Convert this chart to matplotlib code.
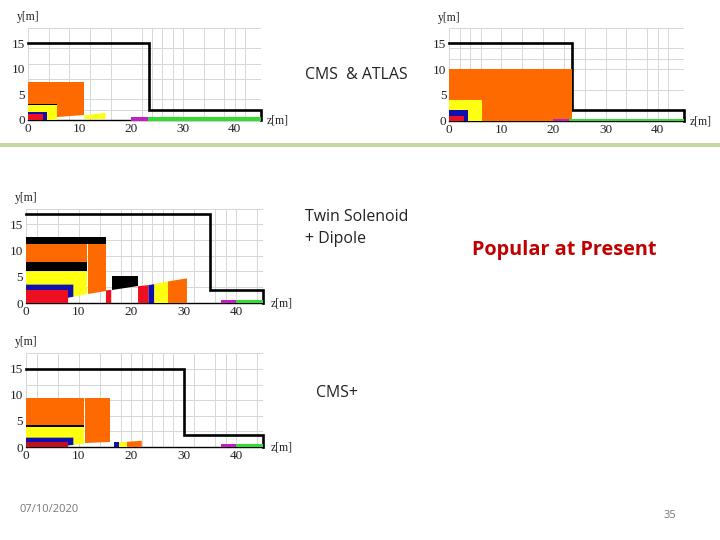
import matplotlib
matplotlib.use('Agg')
import matplotlib.pyplot as plt

W, H = 720, 540
ORANGE = '#ff6a00'
YELLOW = '#ffff10'
BLUE = '#1010b0'
RED = '#ee1020'
DARKRED = '#c01020'
BLACK = '#000000'
WHITE = '#ffffff'
MAGENTA = '#c020c0'
GREEN = '#30dd30'

z_ticks = [0, 10, 20, 30, 40]
y_ticks = [0, 5, 10, 15]

# grid lines in metres, they differ a bit from panel to panel
grid_z_1 = [0, 4, 8, 12, 16, 22, 24, 26, 28, 30, 34, 38, 40, 42, 45]
grid_y_1 = [2, 4, 8, 11, 14, 18]
grid_z_2 = [0, 2, 4, 6, 10, 14, 18, 22, 26, 30, 34, 38, 40, 42, 45]
grid_y_2 = [2, 6, 10, 12, 14, 18]
grid_z_3 = [0, 2, 6, 10, 14, 18, 20, 22, 24, 26, 28, 32, 36, 38, 40, 44, 45]
grid_y_3 = [3, 6, 9, 12, 15, 17.9]
grid_z_4 = [0, 2, 6, 10, 14, 18, 20, 22, 24, 26, 28, 32, 36, 38, 40, 44, 45]
grid_y_4 = [3, 6, 9, 12, 15, 18]

# outlines of the cavern (z, y), open at the beam line
outline_1 = [(0, 15), (23.5, 15), (23.5, 2), (45, 2), (45, 0)]
outline_2 = [(0, 15), (23.5, 15), (23.5, 2), (45, 2), (45, 0)]
outline_3 = [(0, 17), (35, 17), (35, 2.4), (45, 2.4), (45, 0)]
outline_4 = [(0, 15), (30, 15), (30, 2.4), (45, 2.4), (45, 0)]

# detector pieces, painted in order: colour, polygon (z, y)
shapes_1 = [
    (ORANGE, [(0, 0), (0, 7.4), (5.6, 7.4), (5.6, 0)]),
    (ORANGE, [(5.7, 0.5), (5.7, 7.4), (10.8, 7.4), (10.8, 0.9)]),
    (YELLOW, [(0, 0), (0, 3), (5.6, 3), (5.6, 0)]),
    (BLACK, [(0, 2.9), (0, 3.1), (5.6, 3.1), (5.6, 2.9)]),
    (BLUE, [(0, 0), (0, 1.6), (3.7, 1.6), (3.7, 0)]),
    (RED, [(0, 0), (0, 1.2), (2.9, 1.2), (2.9, 0)]),
    (YELLOW, [(10.9, 0.2), (10.9, 0.9), (15, 1.4), (15, 0.2)]),
    (MAGENTA, [(20, -0.1), (20, 0.5), (23.2, 0.5), (23.2, -0.1)]),
    (GREEN, [(23.2, -0.15), (23.2, 0.55), (45, 0.55), (45, -0.15)]),
]
shapes_2 = [
    (ORANGE, [(0, 0), (0, 10), (23.5, 10), (23.5, 0)]),
    (WHITE, [(6.2, 0), (6.2, 10), (6.35, 10), (6.35, 0)]),
    (YELLOW, [(0, 0), (0, 4), (6.2, 4), (6.2, 0)]),
    (BLUE, [(0, 0), (0, 2.1), (3.6, 2.1), (3.6, 0)]),
    (RED, [(0, 0), (0, 1), (2.8, 1), (2.8, 0)]),
    (MAGENTA, [(20, 0), (20, 0.4), (23, 0.4), (23, 0)]),
    (GREEN, [(23, -0.1), (23, 0.4), (45, 0.4), (45, -0.1)]),
]
shapes_3 = [
    (BLACK, [(0, 11.3), (0, 12.6), (15.2, 12.6), (15.2, 11.3)]),
    (ORANGE, [(0, 7.5), (0, 11.3), (11.6, 11.3), (11.6, 7.5)]),
    (ORANGE, [(11.7, 1.7), (11.7, 11.3), (15.2, 11.3), (15.2, 2.3)]),
    (BLACK, [(0, 6), (0, 7.9), (11.6, 7.9), (11.6, 6)]),
    (YELLOW, [(0, 0), (0, 6), (11.6, 6), (11.6, 1.7), (8, 1), (8, 0)]),
    (BLUE, [(0, 0), (0, 3.5), (9, 3.5), (9, 1.2), (8, 1), (8, 0)]),
    (RED, [(0, 0), (0, 2.4), (8, 2.4), (8, 0)]),
    (RED, [(15.2, 0), (15.2, 2.4), (16.2, 2.5), (16.2, 0)]),
    (BLACK, [(16.3, 2.5), (16.3, 5.2), (21.3, 5.2), (21.3, 3.2)]),
    (RED, [(21.3, 0), (21.3, 3.2), (23.3, 3.4), (23.3, 0)]),
    (BLUE, [(23.3, 0), (23.3, 3.4), (24.4, 3.6), (24.4, 0)]),
    (YELLOW, [(24.4, 0), (24.4, 3.6), (27, 4.1), (27, 0)]),
    (ORANGE, [(27, 0), (27, 4.1), (30.6, 4.7), (30.6, 0)]),
    (MAGENTA, [(37, -0.05), (37, 0.55), (40, 0.55), (40, -0.05)]),
    (GREEN, [(40, -0.05), (40, 0.55), (45, 0.55), (45, -0.05)]),
]
shapes_4 = [
    (ORANGE, [(0, 4), (0, 9.5), (11, 9.5), (11, 4)]),
    (ORANGE, [(11.2, 0.7), (11.2, 9.5), (16, 9.5), (16, 0.9)]),
    (YELLOW, [(0, 0), (0, 3.9), (11, 3.9), (11, 0.6), (8, 0.3), (8, 0)]),
    (BLACK, [(0, 3.9), (0, 4.3), (11, 4.3), (11, 3.9)]),
    (BLUE, [(0, 0), (0, 1.8), (9, 1.8), (9, 0.4), (8, 0.3), (8, 0)]),
    (DARKRED, [(0, 0), (0, 1), (8, 1), (8, 0)]),
    (BLUE, [(16.7, 0), (16.7, 0.9), (17.7, 0.9), (17.7, 0)]),
    (YELLOW, [(17.7, 0), (17.7, 1), (19.2, 1), (19.2, 0)]),
    (ORANGE, [(19.2, 0), (19.2, 1), (22, 1.2), (22, 0)]),
    (MAGENTA, [(37, -0.05), (37, 0.55), (40, 0.55), (40, -0.05)]),
    (GREEN, [(40, -0.05), (40, 0.55), (45, 0.55), (45, -0.05)]),
]

fig = plt.figure(figsize=(W / 100, H / 100), dpi=100)


def panel(left, right, bottom, top, ymax, grid_z, grid_y, outline, shapes, ylab_x, ylab_y, zlab_x):
    # pixel box of the plot area, y pixels counted from the top
    ax = fig.add_axes([left / W, 1 - bottom / H, (right - left) / W, (bottom - top) / H])
    ax.set_xlim(0, 45)
    ax.set_ylim(0, ymax)
    for s in ax.spines.values():
        s.set_visible(False)
    ax.set_xticks(z_ticks)
    ax.set_yticks(y_ticks)
    ax.tick_params(length=0, labelsize=9.5, labelcolor='#222222')
    ax.tick_params(axis='x', pad=2.5)
    ax.tick_params(axis='y', pad=2)
    for t in ax.get_xticklabels() + ax.get_yticklabels():
        t.set_family('Liberation Serif')
    ax.vlines(grid_z, 0, ymax, color='#d6d6d6', lw=0.7, zorder=1)
    ax.hlines(grid_y, 0, 45, color='#d6d6d6', lw=0.7, zorder=1)
    ax.plot([0, 45], [0, 0], color='black', lw=1.0, zorder=2, clip_on=False)
    ax.plot([p[0] for p in outline], [p[1] for p in outline], color='black', lw=1.9,
            solid_joinstyle='miter', zorder=2.5, clip_on=False)
    for color, pts in shapes:
        ax.fill([p[0] for p in pts], [p[1] for p in pts], color=color, lw=0, zorder=3, clip_on=False)
    fig.text(ylab_x / W, 1 - ylab_y / H, 'y[m]', family='Liberation Serif', fontsize=8.5,
             color='#222222', va='center')
    fig.text(zlab_x / W, 1 - (bottom + 0.5) / H, 'z[m]', family='Liberation Serif', fontsize=8.5,
             color='#222222', va='center')
    return ax


panel(28, 260.5, 120, 27.7, 18, grid_z_1, grid_y_1, outline_1, shapes_1, 17, 17, 267)
panel(449.3, 683.7, 120.7, 27.7, 18, grid_z_2, grid_y_2, outline_2, shapes_2, 438, 18, 690)
panel(26, 262.7, 303, 209, 17.9, grid_z_3, grid_y_3, outline_3, shapes_3, 15, 198, 271)
panel(26, 262.7, 447, 353.3, 18, grid_z_4, grid_y_4, outline_4, shapes_4, 15, 342, 271)

# slide furniture
fig.add_artist(plt.Rectangle((0, 1 - 147 / H), 1, 3.5 / H, transform=fig.transFigure,
                             color='#c6d6a2', lw=0))
font = 'Open Sans'
fig.text(305 / W, 1 - 75 / H, 'CMS  & ATLAS', family=font, fontsize=11.4, color='#222222', va='center')
fig.text(305 / W, 1 - 217 / H, 'Twin Solenoid', family=font, fontsize=11.4, color='#222222', va='center')
fig.text(305 / W, 1 - 239 / H, '+ Dipole', family=font, fontsize=11.4, color='#222222', va='center')
fig.text(472 / W, 1 - 250 / H, 'Popular at Present', family=font, fontsize=14.3, weight='bold',
         color='#c00000', va='center')
fig.text(316 / W, 1 - 393 / H, 'CMS+', family=font, fontsize=11.4, color='#222222', va='center')
fig.text(20 / W, 1 - 509 / H, '07/10/2020', family=font, fontsize=8, color='#777777', va='center')
fig.text(664 / W, 1 - 515 / H, '35', family=font, fontsize=8, color='#777777', va='center')

fig.savefig('out.png', dpi=100)
